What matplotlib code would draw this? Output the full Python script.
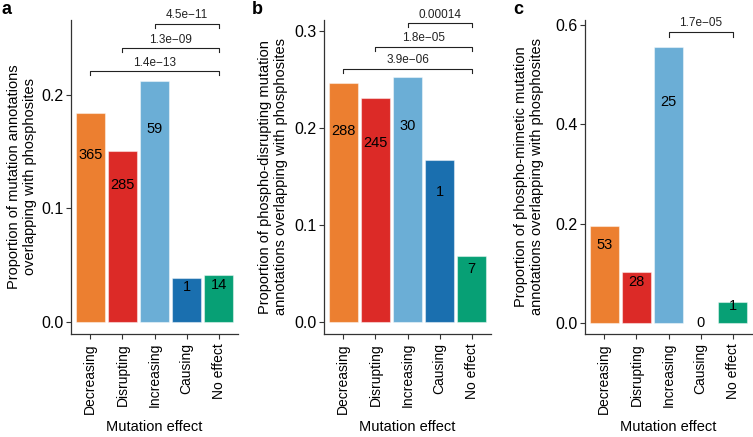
"""
Phosphosite overlap by mutation effect (three panels).
"""

import matplotlib.pyplot as plt

plt.rcParams["font.family"] = ["Liberation Sans", "DejaVu Sans"]

categories = ["Decreasing", "Disrupting", "Increasing", "Causing", "No effect"]
bar_colors = ["#EC7F30", "#DC2A27", "#6BAED6", "#1A6FAF", "#07A075"]

# panel a
props_a = [0.184, 0.151, 0.212, 0.039, 0.041]
counts_a = [365, 285, 59, 1, 14]
pvals_a = ["4.5e\u221211", "1.3e\u221209", "1.4e\u221213"]
pairs_a = [(3, 5), (2, 5), (1, 5)]
bracket_y_a = [0.2626, 0.2414, 0.2211]

# panel b
props_b = [0.246, 0.231, 0.252, 0.167, 0.068]
counts_b = [288, 245, 30, 1, 7]
pvals_b = ["0.00014", "1.8e\u221205", "3.9e\u221206"]
pairs_b = [(3, 5), (2, 5), (1, 5)]
bracket_y_b = [0.308, 0.2835, 0.2608]

# panel c
props_c = [0.196, 0.103, 0.556, 0.0, 0.043]
counts_c = [53, 28, 25, 0, 1]
pvals_c = ["1.7e\u221205"]
pairs_c = [(3, 5)]
bracket_y_c = [0.586]

W, H = 753, 437
fig = plt.figure(figsize=(W / 100, H / 100), dpi=100)


def px_axes(left, right, top, bottom):
    return fig.add_axes([left / W, 1 - bottom / H, (right - left) / W, (bottom - top) / H])


def draw_panel(ax, props, counts, pvals, pairs, bracket_y, ylim, yticks, tick_len):
    xs = range(1, len(categories) + 1)
    ax.bar(xs, props, width=0.9, color=bar_colors, edgecolor=(1, 1, 1, 0.45), linewidth=0.8)
    for x, p, n in zip(xs, props, counts):
        ax.text(x, p * 0.8, str(n), ha="center", va="center", fontsize=10.5, color="black")
    for (x1, x2), y, label in zip(pairs, bracket_y, pvals):
        ax.plot([x1, x1, x2, x2], [y - tick_len, y, y, y - tick_len],
                color="#222222", lw=0.8, clip_on=False)
        ax.text((x1 + x2) / 2, y + tick_len * 0.6, label, ha="center", va="bottom",
                fontsize=8.5, color="#222222")
    ax.set_xlim(0.4, 5.6)
    ax.set_ylim(*ylim)
    ax.set_yticks(yticks)
    ax.set_yticklabels([f"{t:.1f}" for t in yticks])
    ax.set_xticks(list(xs))
    ax.set_xticklabels(categories, rotation=90)
    ax.tick_params(axis="y", labelsize=11.5, length=3.5, width=0.8, color="#333333", pad=2)
    ax.tick_params(axis="x", labelsize=10, length=3.5, width=0.8, color="#333333", pad=3)
    for side in ["top", "right"]:
        ax.spines[side].set_visible(False)
    for side in ["left", "bottom"]:
        ax.spines[side].set_color("#333333")
        ax.spines[side].set_linewidth(0.9)
    ax.set_xlabel("Mutation effect", fontsize=10.5, labelpad=5)


ax_a = px_axes(71, 238, 20, 334)
draw_panel(ax_a, props_a, counts_a, pvals_a, pairs_a, bracket_y_a,
           (-0.0106, 0.266), [0.0, 0.1, 0.2], 0.0035)

ax_b = px_axes(324, 491, 20, 334)
draw_panel(ax_b, props_b, counts_b, pvals_b, pairs_b, bracket_y_b,
           (-0.0124, 0.311), [0.0, 0.1, 0.2, 0.3], 0.004)

ax_c = px_axes(585, 752, 20, 334)
draw_panel(ax_c, props_c, counts_c, pvals_c, pairs_c, bracket_y_c,
           (-0.0222, 0.610), [0.0, 0.2, 0.4, 0.6], 0.01)

ylabels = [
    (22, "Proportion of mutation annotations\noverlapping with phosphosites"),
    (273, "Proportion of phospho-disrupting mutation\nannotations overlapping with phosphosites"),
    (529, "Proportion of phospho-mimetic mutation\nannotations overlapping with phosphosites"),
]
for x, text in ylabels:
    fig.text(x / W, 1 - 177 / H, text, rotation=90, ha="center", va="center",
             fontsize=10.5, linespacing=1.2)

for x, letter in [(2, "a"), (252, "b"), (513, "c")]:
    fig.text(x / W, 1 - 1 / H, letter, ha="left", va="top", fontsize=13, fontweight="bold")

fig.savefig("out.png", dpi=100)
